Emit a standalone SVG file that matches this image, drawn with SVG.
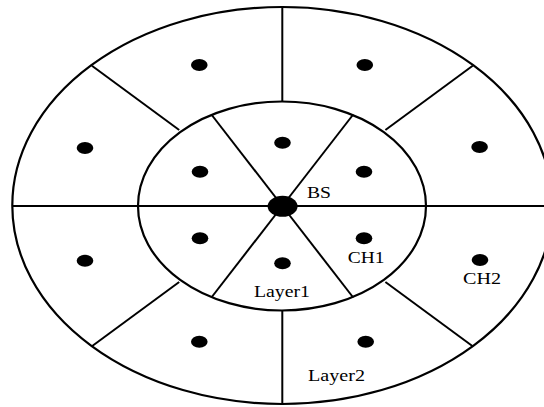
<svg xmlns="http://www.w3.org/2000/svg" width="544" height="407" viewBox="0 0 544 407">
  <style>
    .ring { fill: none; stroke: #000; stroke-width: 2.2; }
    .ln { stroke: #000; stroke-width: 2; fill: none; }
    .dot { fill: #000; }
    .lbl { font-family: "Liberation Serif", "Times New Roman", serif; font-size: 16px; fill: #000; }
  </style>
  <rect width="544" height="407" fill="#fff"/>
  <g id="areas">
    <ellipse class="ring" cx="282.3" cy="205.5" rx="270" ry="198.5"/>
    <ellipse class="ring" cx="282" cy="206" rx="144" ry="104.5"/>
  </g>
  <g id="connectors">
    <line class="ln" x1="12.3" y1="206" x2="544" y2="206"/>
    <line class="ln" x1="282.3" y1="7" x2="282.3" y2="101.5"/>
    <line class="ln" x1="282.3" y1="310.5" x2="282.3" y2="404"/>
    <line class="ln" x1="282.3" y1="206" x2="211.4" y2="114.5"/>
    <line class="ln" x1="282.3" y1="206" x2="353.2" y2="114.5"/>
    <line class="ln" x1="282.3" y1="206" x2="211.4" y2="297.5"/>
    <line class="ln" x1="282.3" y1="206" x2="353.2" y2="297.5"/>
    <line class="ln" x1="179.2" y1="130" x2="91.9" y2="65.7"/>
    <line class="ln" x1="385.4" y1="130" x2="472.7" y2="65.7"/>
    <line class="ln" x1="179.2" y1="282" x2="91.9" y2="346.3"/>
    <line class="ln" x1="385.4" y1="282" x2="472.7" y2="346.3"/>
  </g>
  <g id="BS">
    <ellipse class="dot" cx="282.6" cy="206.3" rx="15" ry="10.5"/>
    <text class="lbl" x="307" y="198" textLength="24" lengthAdjust="spacingAndGlyphs">BS</text>
  </g>
  <g id="inner-nodes">
    <ellipse id="n1" class="dot" cx="282.5" cy="142.7" rx="8.3" ry="6"/>
    <ellipse id="n2" class="dot" cx="200" cy="171.7" rx="8.3" ry="6"/>
    <ellipse id="n3" class="dot" cx="364" cy="171.7" rx="8.3" ry="6"/>
    <ellipse id="n4" class="dot" cx="200" cy="238.3" rx="8.3" ry="6"/>
    <ellipse id="n5" class="dot" cx="364" cy="238.3" rx="8.3" ry="6"/>
    <ellipse id="n6" class="dot" cx="282.5" cy="263.3" rx="8.3" ry="6"/>
  </g>
  <g id="outer-nodes">
    <ellipse id="m1" class="dot" cx="199.3" cy="65" rx="8.3" ry="6"/>
    <ellipse id="m2" class="dot" cx="364.8" cy="65" rx="8.3" ry="6"/>
    <ellipse id="m3" class="dot" cx="85" cy="148" rx="8.3" ry="6"/>
    <ellipse id="m4" class="dot" cx="479.6" cy="147" rx="8.3" ry="6"/>
    <ellipse id="m5" class="dot" cx="85" cy="260.7" rx="8.3" ry="6"/>
    <ellipse id="m6" class="dot" cx="480" cy="260" rx="8.3" ry="6"/>
    <ellipse id="m7" class="dot" cx="199.3" cy="341.7" rx="8.3" ry="6"/>
    <ellipse id="m8" class="dot" cx="365.7" cy="341.7" rx="8.3" ry="6"/>
  </g>
  <g id="labels">
    <text class="lbl" x="347.7" y="263" textLength="36.7" lengthAdjust="spacingAndGlyphs">CH1</text>
    <text class="lbl" x="463" y="284" textLength="38" lengthAdjust="spacingAndGlyphs">CH2</text>
    <text class="lbl" x="254" y="297" textLength="56" lengthAdjust="spacingAndGlyphs">Layer1</text>
    <text class="lbl" x="308" y="381" textLength="57" lengthAdjust="spacingAndGlyphs">Layer2</text>
  </g>
</svg>
